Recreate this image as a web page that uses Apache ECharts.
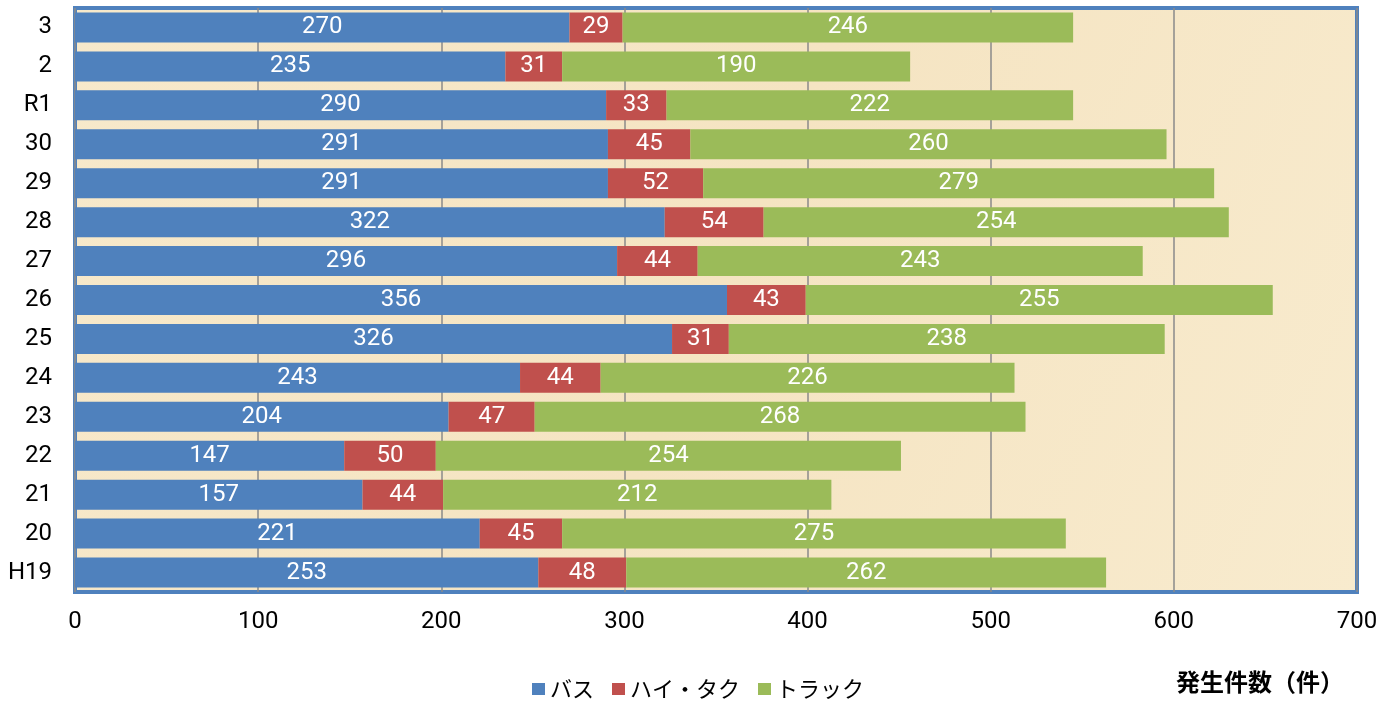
<!DOCTYPE html>
<html>
<head>
<meta charset="utf-8">
<script src="https://cdn.jsdelivr.net/npm/echarts@6/dist/echarts.min.js"></script>
<style>
html,body{margin:0;padding:0;background:#fff;}
#chart{width:1395px;height:702px;}
</style>
</head>
<body>
<div id="chart"></div>
<script>
const categories = ['H19','20','21','22','23','24','25','26','27','28','29','30','R1','2','3'];
const bus = [253,221,157,147,204,243,326,356,296,322,291,291,290,235,270];
const haitaku = [48,45,44,50,47,44,31,43,44,54,52,45,33,31,29];
const truck = [262,275,212,254,268,226,238,255,243,254,279,260,222,190,246];
const seriesNames = ['バス','ハイ・タク','トラック'];
const xTicks = [0,100,200,300,400,500,600,700];

const colors = ['#4F81BD','#C0504D','#9BBB59'];
const fontFam = 'Roboto, "Noto Sans CJK JP", sans-serif';

const chart = echarts.init(document.getElementById('chart'));
function mk(name, data, color){
  return {
    name: name, type: 'bar', stack: 'total', data: data, barWidth: 30,
    itemStyle: {color: color},
    label: {show: true, position: 'inside', color: '#fff', fontSize: 24, fontFamily: fontFam},
    emphasis: {disabled: true}
  };
}
chart.setOption({
  animation: false,
  backgroundColor: '#ffffff',
  grid: {left: 75, right: 38, top: 8, bottom: 110, show: true,
    backgroundColor: {type:'linear', x:0, y:0, x2:1, y2:1, colorStops:[{offset:0,color:'#F7E9CB'},{offset:0.5,color:'#F5E4C2'},{offset:1,color:'#F8EBCE'}]},
    borderColor: '#4F81BD', borderWidth: 4},
  legend: {
    data: seriesNames, top: 673, left: 527,
    icon: 'rect', itemWidth: 13, itemHeight: 12, itemGap: 18,
    textStyle: {fontSize: 22, color: '#000', fontFamily: '"Noto Sans CJK JP", sans-serif'}
  },
  xAxis: {
    type: 'value', min: xTicks[0], max: xTicks[xTicks.length-1], interval: 100,
    axisLine: {show: false}, axisTick: {show: false},
    splitLine: {show: true, lineStyle: {color: '#8a8a8a', width: 1.5}},
    axisLabel: {fontSize: 24, color: '#000', margin: 18, fontFamily: fontFam}
  },
  yAxis: {
    type: 'category', data: categories,
    axisLine: {show: false}, axisTick: {show: false},
    axisLabel: {fontSize: 24, color: '#000', margin: 23, fontFamily: fontFam}
  },
  graphic: [{
    type: 'text', left: 1176, top: 670,
    style: {text: '発生件数（件）', fontSize: 24, fontWeight: 'bold', fill: '#000', fontFamily: '"Noto Sans CJK JP", sans-serif'}
  }],
  series: [mk(seriesNames[0], bus, colors[0]), mk(seriesNames[1], haitaku, colors[1]), mk(seriesNames[2], truck, colors[2])]
});
</script>
</body>
</html>
